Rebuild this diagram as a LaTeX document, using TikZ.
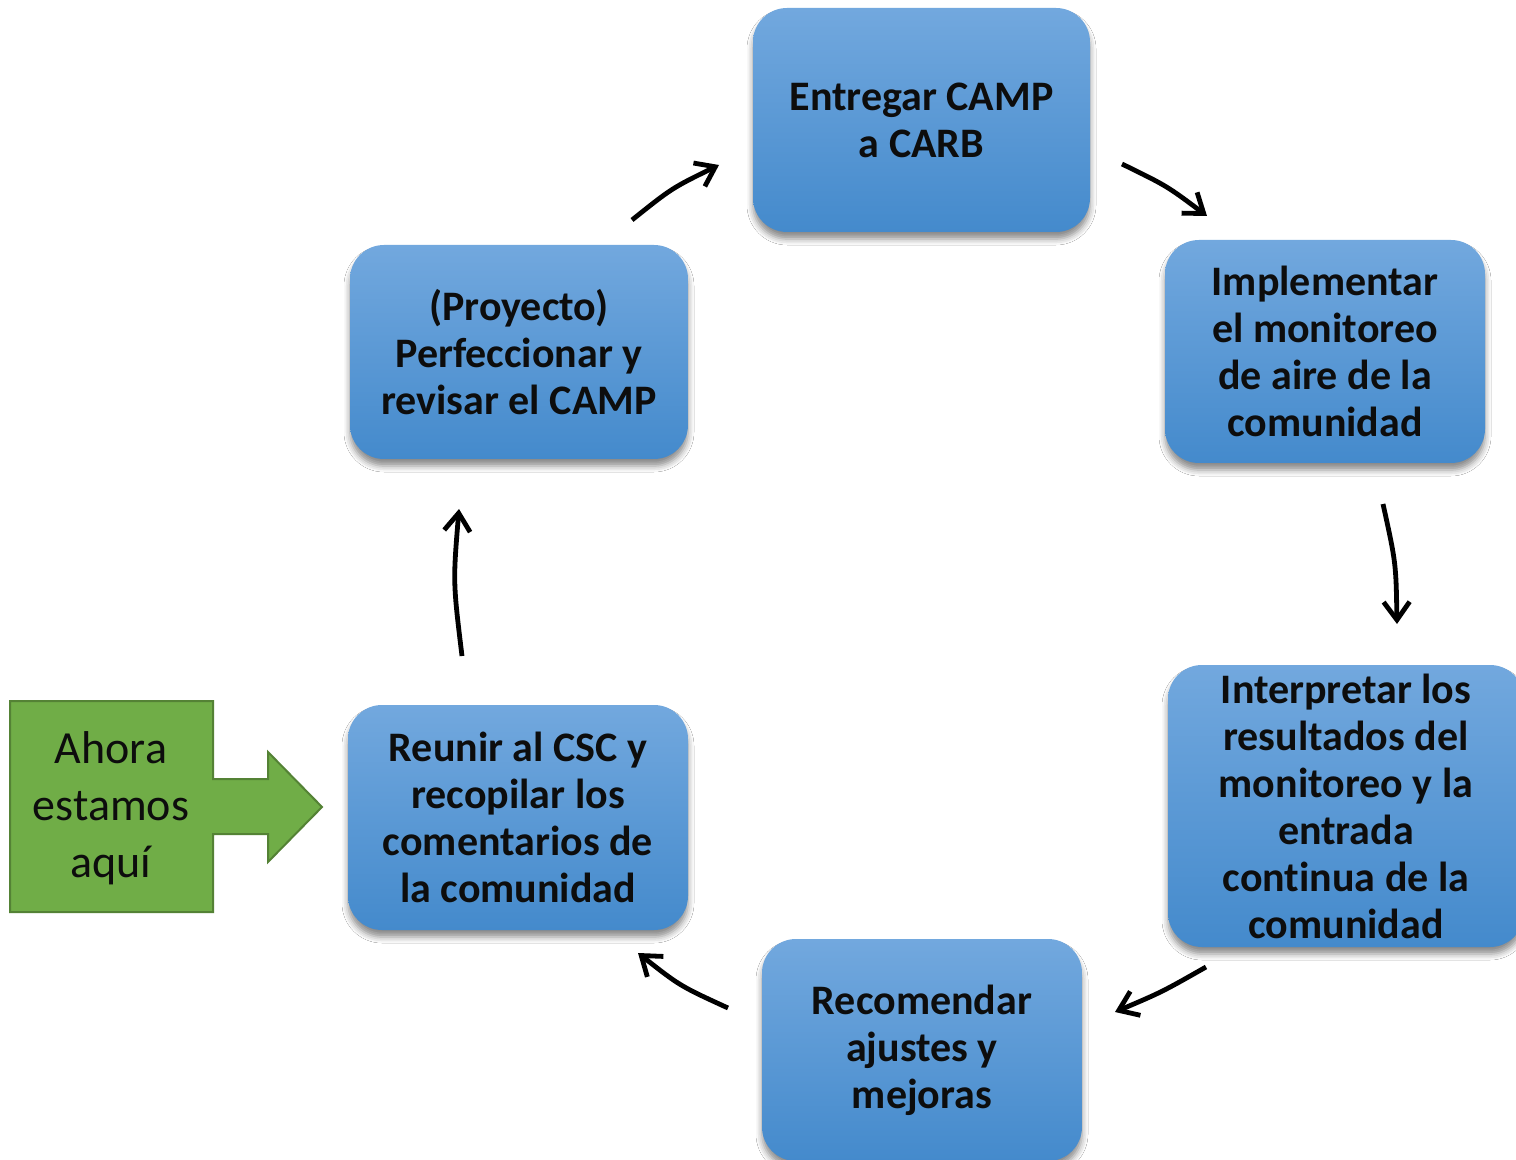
\documentclass[tikz,border=0pt]{standalone}
\usepackage{fontspec}
\setmainfont{Carlito}[Ligatures=NoCommon]
\usetikzlibrary{arrows.meta,shadows,shadows.blur}
\definecolor{boxtop}{RGB}{114,168,222}
\definecolor{boxbot}{RGB}{68,138,204}
\definecolor{greenfill}{RGB}{112,173,71}
\definecolor{greenline}{RGB}{84,130,53}
\tikzset{
  stepbox/.style={rectangle, rounded corners=17pt, inner sep=2pt, align=center,
    top color=boxtop, bottom color=boxbot, draw=none,
    blur shadow={shadow xshift=0pt, shadow yshift=-3.5pt, shadow blur radius=3pt, shadow opacity=45},
    font=\fontsize{21}{23.5}\selectfont\bfseries, text=black!95},
  cyc/.style={line width=2.4pt, -{Straight Barb[length=9pt,width=13pt,line width=2.4pt]}, black}
}
\begin{document}
\begin{tikzpicture}[x=0.5pt,y=-0.5pt]
\useasboundingbox (0,0) rectangle (1516,1160);
\fill[white] (0,0) rectangle (1516,1160);
\clip (0,0) rectangle (1516,1160);

\node[stepbox, minimum width=168.5pt, minimum height=112pt] (b1) at (921.5,120) {Entregar CAMP\\a CARB};
\node[stepbox, minimum width=160pt, minimum height=111.5pt] (b2) at (1325,351.5) {Implementar\\el monitoreo\\de aire de la\\comunidad};
\node[stepbox, minimum width=178pt, minimum height=141pt] (b3) at (1346,806) {Interpretar los\\resultados del\\monitoreo y la\\entrada\\continua de la\\comunidad};
\node[stepbox, minimum width=160pt, minimum height=111pt] (b4) at (922,1050) {Recomendar\\ajustes y\\mejoras};
\node[stepbox, minimum width=170pt, minimum height=112.5pt] (b5) at (518,817.5) {Reunir al CSC y\\recopilar los\\comentarios de\\la comunidad};
\node[stepbox, minimum width=169pt, minimum height=107pt] (b6) at (519,352) {(Proyecto)\\Perfeccionar y\\revisar el CAMP};

% green "you are here" arrow
\draw[fill=greenfill, draw=greenline, line width=1pt]
  (10,701) -- (213,701) -- (213,779) -- (268,779) -- (268,752) -- (322,807)
  -- (268,862) -- (268,834) -- (213,834) -- (213,912) -- (10,912) -- cycle;
\node[align=center, font=\fontsize{23}{28.5}\selectfont, text=black!95] (here) at (111,808) {Ahora\\estamos\\aquí};

% cycle arrows
\coordinate (a1s) at (632,220); \coordinate (a1e) at (719,165);
\coordinate (a2s) at (1122,164); \coordinate (a2e) at (1207,216);
\coordinate (a3s) at (1383,504); \coordinate (a3e) at (1397,624);
\coordinate (a4s) at (1206,967); \coordinate (a4e) at (1115,1012);
\coordinate (a5s) at (728,1008); \coordinate (a5e) at (638,953);
\coordinate (a6s) at (462,656); \coordinate (a6e) at (459,509);

\draw[cyc] (a1s) .. controls (672,188) .. (a1e);
\draw[cyc] (a2s) .. controls (1167,186) .. (a2e);
\draw[cyc] (a3s) .. controls (1396,563) .. (a3e);
\draw[cyc] (a4s) .. controls (1162,992) .. (a4e);
\draw[cyc] (a5s) .. controls (680,986) .. (a5e);
\draw[cyc] (a6s) .. controls (453,582) .. (a6e);
\end{tikzpicture}
\end{document}
